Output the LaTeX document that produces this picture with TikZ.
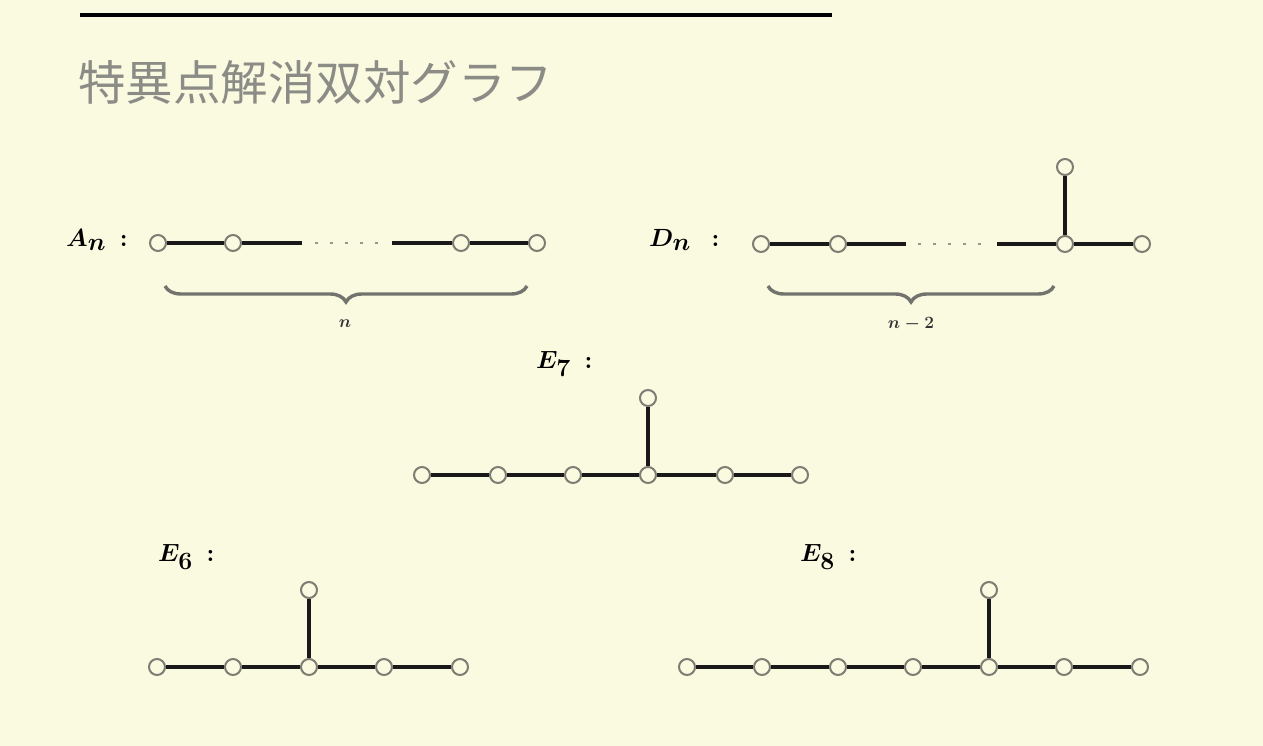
\documentclass[tikz,border=0pt]{standalone}
\usepackage{amsmath}
\usepackage{fontspec}
\newfontfamily\cjk{Noto Sans CJK JP}
\usetikzlibrary{decorations.pathreplacing}
\definecolor{bg}{RGB}{250,250,225}
\definecolor{edgec}{RGB}{25,25,25}
\definecolor{vertc}{RGB}{125,125,115}
\definecolor{bracec}{RGB}{115,115,110}
\definecolor{titlec}{RGB}{140,140,135}
\definecolor{dotc}{RGB}{150,150,140}
\begin{document}
\begin{tikzpicture}[x=1pt,y=-1pt,
  vtx/.style={circle,draw=vertc,fill=bg,line width=2pt,minimum size=16pt,inner sep=0pt},
  edge/.style={draw=edgec,line width=3.2pt},
  dotline/.style={draw=dotc,line width=2.6pt,dash pattern=on 2.6pt off 12.4pt},
  lbl/.style={font=\fontsize{33}{36}\selectfont,anchor=west,inner sep=0pt,text=black},
  smalllbl/.style={font=\fontsize{17}{19}\selectfont,inner sep=0pt,text=black!80},
  bracedeco/.style={decorate,decoration={brace,mirror,amplitude=16pt},draw=bracec,line width=3.4pt},
  titlelbl/.style={font=\cjk\fontsize{47.5}{52}\selectfont,anchor=west,inner sep=0pt,text=titlec}]
\fill[bg] (0,0) rectangle (1263,746);
\useasboundingbox (0,0) rectangle (1263,746);
% top underline
\coordinate (ul1) at (80,15);
\coordinate (ul2) at (832,15);
\draw[black,line width=4pt] (ul1) -- (ul2);
% title
\node[titlelbl] (title) at (78,82) {特異点解消双対グラフ};

% ---------- A_n ----------
\node[lbl] (lA) at (66,240) {$\boldsymbol{A_n}\;\boldsymbol{:}$};
\node[vtx] (a1) at (158,243) {};
\node[vtx] (a2) at (233,243) {};
\node[vtx] (a3) at (461,243) {};
\node[vtx] (a4) at (537,243) {};
\coordinate (a2e) at (302,243);
\coordinate (ad1) at (315,243);
\coordinate (ad2) at (385,243);
\coordinate (a3s) at (392,243);
\draw[edge] (a1) -- (a2);
\draw[edge] (a2) -- (a2e);
\draw[dotline] (ad1) -- (ad2);
\draw[edge] (a3s) -- (a3);
\draw[edge] (a3) -- (a4);
\coordinate (ab1) at (165,286);
\coordinate (ab2) at (527,286);
\draw[bracedeco] (ab1) -- (ab2);
\node[smalllbl] (nA) at (345,324) {$\boldsymbol{n}$};

% ---------- D_n ----------
\node[lbl] (lD) at (649,240) {$\boldsymbol{D_n}\;\;\boldsymbol{:}$};
\node[vtx] (d1) at (761,244) {};
\node[vtx] (d2) at (838,244) {};
\node[vtx] (d3) at (1065,244) {};
\node[vtx] (d4) at (1142,244) {};
\node[vtx] (d5) at (1065,167) {};
\coordinate (d2e) at (906,244);
\coordinate (dd1) at (918,244);
\coordinate (dd2) at (988,244);
\coordinate (d3s) at (997,244);
\draw[edge] (d1) -- (d2);
\draw[edge] (d2) -- (d2e);
\draw[dotline] (dd1) -- (dd2);
\draw[edge] (d3s) -- (d3);
\draw[edge] (d3) -- (d4);
\draw[edge] (d3) -- (d5);
\coordinate (db1) at (768,286);
\coordinate (db2) at (1054,286);
\draw[bracedeco] (db1) -- (db2);
\node[smalllbl] (nD) at (911,324) {$\boldsymbol{n-2}$};

% ---------- E_7 ----------
\node[lbl] (lE7) at (536,364) {$\boldsymbol{E_7}\;\boldsymbol{:}$};
\foreach \i/\x in {1/422,2/498,3/573,4/648,5/725,6/800}
  \node[vtx] (s\i) at (\x,475) {};
\node[vtx] (s7) at (648,398) {};
\foreach \i/\j in {1/2,2/3,3/4,4/5,5/6,4/7}
  \draw[edge] (s\i) -- (s\j);

% ---------- E_6 ----------
\node[lbl] (lE6) at (158,557) {$\boldsymbol{E_6}\;\boldsymbol{:}$};
\foreach \i/\x in {1/157,2/233,3/309,4/384,5/460}
  \node[vtx] (x\i) at (\x,667) {};
\node[vtx] (x6) at (309,590) {};
\foreach \i/\j in {1/2,2/3,3/4,4/5,3/6}
  \draw[edge] (x\i) -- (x\j);

% ---------- E_8 ----------
\node[lbl] (lE8) at (800,557) {$\boldsymbol{E_8}\;\boldsymbol{:}$};
\foreach \i/\x in {1/687,2/762,3/838,4/913,5/989,6/1064,7/1140}
  \node[vtx] (e\i) at (\x,667) {};
\node[vtx] (e8) at (989,590) {};
\foreach \i/\j in {1/2,2/3,3/4,4/5,5/6,6/7,5/8}
  \draw[edge] (e\i) -- (e\j);
\end{tikzpicture}
\end{document}
